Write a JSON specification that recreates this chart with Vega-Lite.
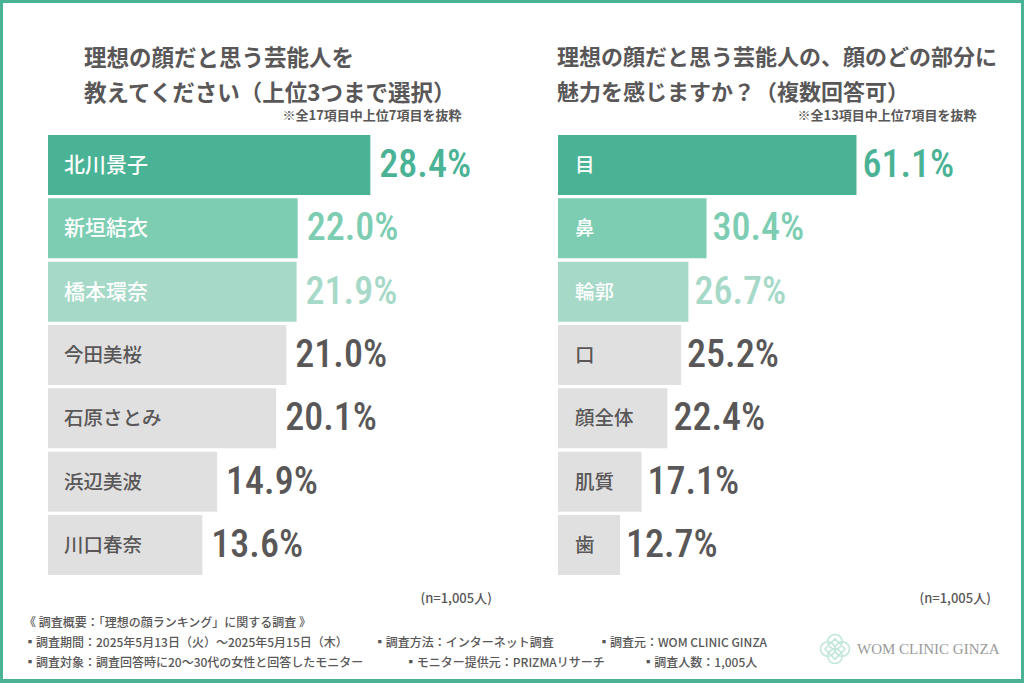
{"$schema":"https://vega.github.io/schema/vega-lite/v6.json","background":"#4bb395","padding":{"left":3,"top":3,"right":3,"bottom":4},"spacing":0,"config":{"view":{"stroke":null,"fill":"#ffffff"},"concat":{"spacing":0},"font":"Noto Sans CJK JP"},"datasets":{"names":[{"rank":1,"item":"北川景子","value":28.4,"label":"28.4%"},{"rank":2,"item":"新垣結衣","value":22.0,"label":"22.0%"},{"rank":3,"item":"橋本環奈","value":21.9,"label":"21.9%"},{"rank":4,"item":"今田美桜","value":21.0,"label":"21.0%"},{"rank":5,"item":"石原さとみ","value":20.1,"label":"20.1%"},{"rank":6,"item":"浜辺美波","value":14.9,"label":"14.9%"},{"rank":7,"item":"川口春奈","value":13.6,"label":"13.6%"}],"parts":[{"rank":1,"item":"目","value":61.1,"label":"61.1%"},{"rank":2,"item":"鼻","value":30.4,"label":"30.4%"},{"rank":3,"item":"輪郭","value":26.7,"label":"26.7%"},{"rank":4,"item":"口","value":25.2,"label":"25.2%"},{"rank":5,"item":"顔全体","value":22.4,"label":"22.4%"},{"rank":6,"item":"肌質","value":17.1,"label":"17.1%"},{"rank":7,"item":"歯","value":12.7,"label":"12.7%"}],"footer":[{"line":"l1","text":"《 調査概要：「理想の顔ランキング」に関する調査 》"},{"line":"l2","text":"▪調査期間：2025年5月13日（火）～2025年5月15日（木）　　\u00a0\u00a0\u00a0▪調査方法：インターネット調査　　　\u00a0\u00a0\u00a0▪調査元：WOM CLINIC GINZA"},{"line":"l3","text":"▪調査対象：調査回答時に20～30代の女性と回答したモニター　　　\u00a0\u00a0▪モニター提供元：PRIZMAリサーチ　　\u00a0\u00a0\u00a0\u00a0\u00a0▪調査人数：1,005人"}],"logo":[{"line":"l2","brand":"WOM CLINIC GINZA"}]},"vconcat":[{"hconcat":[{"width":507,"height":605,"data":{"name":"names"},"title":{"text":["理想の顔だと思う芸能人を","教えてください（上位3つまで選択）"],"anchor":"start","frame":"group","baseline":"top","dx":81,"dy":102,"fontSize":22.5,"fontWeight":700,"lineHeight":35,"color":"#595757","font":"Noto Sans CJK JP","offset":0},"resolve":{"axis":{"x":"independent"}},"encoding":{"y":{"field":"item","type":"nominal","sort":null,"scale":{"range":[132,572],"paddingInner":0.052,"paddingOuter":0},"axis":{"labels":false,"ticks":false,"domain":false,"grid":false,"title":"(n=1,005人)","titleAngle":0,"titleX":417,"titleY":595,"titleAlign":"left","titleBaseline":"middle","titleFontSize":13,"titleFontWeight":500,"titleColor":"#595757","titleFont":"Noto Sans CJK JP"}}},"layer":[{"mark":{"type":"bar"},"encoding":{"x":{"field":"value","type":"quantitative","scale":{"domain":[-3.965,40.705],"nice":false,"zero":false},"axis":{"orient":"top","labels":false,"ticks":false,"domain":false,"grid":false,"title":"※全17項目中上位7項目を抜粋","titleX":458,"titleY":112,"titleAlign":"right","titleBaseline":"middle","titleFontSize":13,"titleFontWeight":700,"titleColor":"#595757","titleFont":"Noto Sans CJK JP"}},"color":{"field":"rank","type":"ordinal","legend":null,"scale":{"domain":[1,2,3,4,5,6,7],"range":["#4bb395","#7ccdb2","#a6d9c8","#e0e0e0","#e0e0e0","#e0e0e0","#e0e0e0"]}}}},{"mark":{"type":"text","align":"left","baseline":"middle","dx":16,"dy":1,"fontWeight":500,"font":"Noto Sans CJK JP"},"encoding":{"x":{"datum":0,"type":"quantitative","axis":null,"scale":{"domain":[-3.965,40.705],"nice":false,"zero":false}},"text":{"field":"item"},"size":{"condition":{"test":"datum.rank<=3","value":21},"value":19.5},"color":{"condition":{"test":"datum.rank<=3","value":"#ffffff"},"value":"#595757"}}},{"mark":{"type":"text","align":"left","baseline":"middle","dx":9,"dy":1,"fontSize":38,"fontWeight":500,"font":"Roboto Condensed, Roboto"},"encoding":{"x":{"field":"value","type":"quantitative","axis":null,"scale":{"domain":[-3.965,40.705],"nice":false,"zero":false}},"text":{"field":"label"},"color":{"condition":[{"test":"datum.rank==1","value":"#4bb395"},{"test":"datum.rank==2","value":"#7ccdb2"},{"test":"datum.rank==3","value":"#a6d9c8"}],"value":"#595757"}}}]},{"width":511,"height":605,"data":{"name":"parts"},"title":{"text":["理想の顔だと思う芸能人の、顔のどの部分に","魅力を感じますか？（複数回答可）"],"anchor":"start","frame":"group","baseline":"top","dx":47,"dy":102,"fontSize":22,"fontWeight":700,"lineHeight":35,"color":"#595757","font":"Noto Sans CJK JP","offset":0},"resolve":{"axis":{"x":"independent"}},"encoding":{"y":{"field":"item","type":"nominal","sort":null,"scale":{"range":[132,572],"paddingInner":0.052,"paddingOuter":0},"axis":{"labels":false,"ticks":false,"domain":false,"grid":false,"title":"(n=1,005人)","titleAngle":0,"titleX":409,"titleY":595,"titleAlign":"left","titleBaseline":"middle","titleFontSize":13,"titleFontWeight":500,"titleColor":"#595757","titleFont":"Noto Sans CJK JP"}}},"layer":[{"mark":{"type":"bar"},"encoding":{"x":{"field":"value","type":"quantitative","scale":{"domain":[-9.826,94.78],"nice":false,"zero":false},"axis":{"orient":"top","labels":false,"ticks":false,"domain":false,"grid":false,"title":"※全13項目中上位7項目を抜粋","titleX":466,"titleY":112,"titleAlign":"right","titleBaseline":"middle","titleFontSize":13,"titleFontWeight":700,"titleColor":"#595757","titleFont":"Noto Sans CJK JP"}},"color":{"field":"rank","type":"ordinal","legend":null,"scale":{"domain":[1,2,3,4,5,6,7],"range":["#4bb395","#7ccdb2","#a6d9c8","#e0e0e0","#e0e0e0","#e0e0e0","#e0e0e0"]}}}},{"mark":{"type":"text","align":"left","baseline":"middle","dx":17,"dy":1,"fontWeight":500,"fontSize":19.5,"font":"Noto Sans CJK JP"},"encoding":{"x":{"datum":0,"type":"quantitative","axis":null,"scale":{"domain":[-9.826,94.78],"nice":false,"zero":false}},"text":{"field":"item"},"color":{"condition":{"test":"datum.rank<=3","value":"#ffffff"},"value":"#595757"}}},{"mark":{"type":"text","align":"left","baseline":"middle","dx":6,"dy":1,"fontSize":38,"fontWeight":500,"font":"Roboto Condensed, Roboto"},"encoding":{"x":{"field":"value","type":"quantitative","axis":null,"scale":{"domain":[-9.826,94.78],"nice":false,"zero":false}},"text":{"field":"label"},"color":{"condition":[{"test":"datum.rank==1","value":"#4bb395"},{"test":"datum.rank==2","value":"#7ccdb2"},{"test":"datum.rank==3","value":"#a6d9c8"}],"value":"#595757"}}}]}]},{"width":1018,"height":71,"layer":[{"data":{"name":"footer"},"mark":{"type":"text","align":"left","baseline":"middle","dy":0,"fontSize":12,"fontWeight":500,"color":"#595757","font":"Noto Sans CJK JP"},"encoding":{"x":{"value":21},"y":{"field":"line","type":"nominal","sort":null,"axis":null,"scale":{"domain":["l1","l2","l3"],"range":[5,65],"paddingInner":0,"paddingOuter":0}},"text":{"field":"text"}}},{"data":{"name":"logo"},"mark":{"type":"text","align":"left","baseline":"middle","dy":6,"fontSize":15,"color":"#9a9a9a","font":"Liberation Serif"},"encoding":{"x":{"value":854},"y":{"field":"line","type":"nominal","sort":null,"axis":null,"scale":{"domain":["l1","l2","l3"],"range":[5,65],"paddingInner":0,"paddingOuter":0}},"text":{"field":"brand"}}},{"data":{"name":"logo"},"mark":{"type":"point","filled":false,"stroke":"#a8dccb","strokeWidth":1.5,"shape":"M0,0A.5,.5 0 1 1 1,0A.5,.5 0 1 1 0,0ZM0,0A.5,.5 0 1 1 -1,0A.5,.5 0 1 1 0,0ZM0,0A.5,.5 0 1 1 0,1A.5,.5 0 1 1 0,0ZM0,0A.5,.5 0 1 1 0,-1A.5,.5 0 1 1 0,0ZM0,-.7L.7,0L0,.7L-.7,0Z","size":840,"yOffset":6},"encoding":{"x":{"value":832},"y":{"field":"line","type":"nominal","sort":null,"axis":null,"scale":{"domain":["l1","l2","l3"],"range":[5,65],"paddingInner":0,"paddingOuter":0}}}}]}]}
